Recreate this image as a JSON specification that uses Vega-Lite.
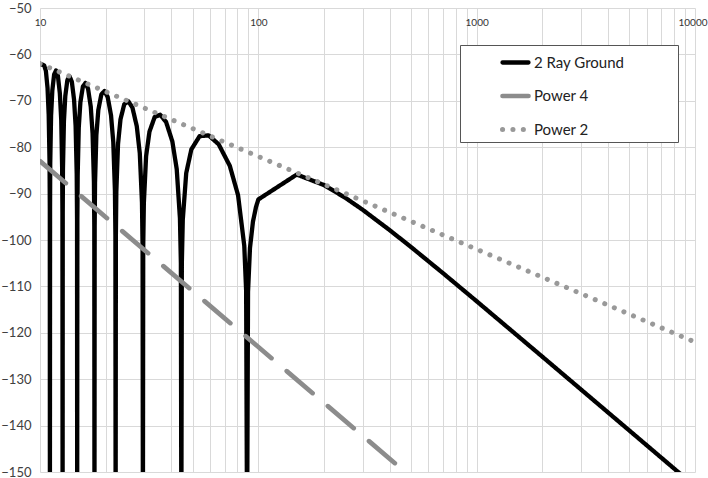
{
  "$schema": "https://vega.github.io/schema/vega-lite/v6.json",
  "width": 655,
  "height": 464,
  "autosize": {"type": "none"},
  "padding": {"left": 40, "top": 8, "right": 13, "bottom": 6},
  "background": "white",
  "config": {"view": {"stroke": null}, "font": "Lato"},
  "data": {"values": [
    {"series": "2 Ray Ground", "d": 10, "p": -62.0},
    {"series": "2 Ray Ground", "d": 10.45, "p": -62.38},
    {"series": "2 Ray Ground", "d": 10.64, "p": -63.54},
    {"series": "2 Ray Ground", "d": 10.83, "p": -67.31},
    {"series": "2 Ray Ground", "d": 10.96, "p": -73.00},
    {"series": "2 Ray Ground", "d": 11.06, "p": -83.41},
    {"series": "2 Ray Ground", "d": 11.09, "p": -92.96},
    {"series": "2 Ray Ground", "d": 11.10, "p": -165},
    {"series": "2 Ray Ground", "d": 11.12, "p": -92.98},
    {"series": "2 Ray Ground", "d": 11.14, "p": -83.47},
    {"series": "2 Ray Ground", "d": 11.24, "p": -73.22},
    {"series": "2 Ray Ground", "d": 11.39, "p": -67.75},
    {"series": "2 Ray Ground", "d": 11.61, "p": -64.30},
    {"series": "2 Ray Ground", "d": 11.84, "p": -63.47},
    {"series": "2 Ray Ground", "d": 12.08, "p": -64.64},
    {"series": "2 Ray Ground", "d": 12.33, "p": -68.44},
    {"series": "2 Ray Ground", "d": 12.51, "p": -74.14},
    {"series": "2 Ray Ground", "d": 12.63, "p": -84.56},
    {"series": "2 Ray Ground", "d": 12.67, "p": -94.12},
    {"series": "2 Ray Ground", "d": 12.69, "p": -165},
    {"series": "2 Ray Ground", "d": 12.71, "p": -94.14},
    {"series": "2 Ray Ground", "d": 12.74, "p": -84.64},
    {"series": "2 Ray Ground", "d": 12.87, "p": -74.39},
    {"series": "2 Ray Ground", "d": 13.06, "p": -68.94},
    {"series": "2 Ray Ground", "d": 13.35, "p": -65.51},
    {"series": "2 Ray Ground", "d": 13.66, "p": -64.71},
    {"series": "2 Ray Ground", "d": 13.99, "p": -65.91},
    {"series": "2 Ray Ground", "d": 14.32, "p": -69.74},
    {"series": "2 Ray Ground", "d": 14.56, "p": -75.46},
    {"series": "2 Ray Ground", "d": 14.73, "p": -85.89},
    {"series": "2 Ray Ground", "d": 14.78, "p": -95.45},
    {"series": "2 Ray Ground", "d": 14.80, "p": -165},
    {"series": "2 Ray Ground", "d": 14.83, "p": -95.48},
    {"series": "2 Ray Ground", "d": 14.88, "p": -85.98},
    {"series": "2 Ray Ground", "d": 15.05, "p": -75.75},
    {"series": "2 Ray Ground", "d": 15.31, "p": -70.32},
    {"series": "2 Ray Ground", "d": 15.72, "p": -66.93},
    {"series": "2 Ray Ground", "d": 16.15, "p": -66.16},
    {"series": "2 Ray Ground", "d": 16.60, "p": -67.40},
    {"series": "2 Ray Ground", "d": 17.08, "p": -71.27},
    {"series": "2 Ray Ground", "d": 17.41, "p": -77.02},
    {"series": "2 Ray Ground", "d": 17.66, "p": -87.47},
    {"series": "2 Ray Ground", "d": 17.73, "p": -97.03},
    {"series": "2 Ray Ground", "d": 17.76, "p": -165},
    {"series": "2 Ray Ground", "d": 17.80, "p": -97.07},
    {"series": "2 Ray Ground", "d": 17.87, "p": -87.57},
    {"series": "2 Ray Ground", "d": 18.12, "p": -77.37},
    {"series": "2 Ray Ground", "d": 18.50, "p": -71.97},
    {"series": "2 Ray Ground", "d": 19.10, "p": -68.62},
    {"series": "2 Ray Ground", "d": 19.74, "p": -67.91},
    {"series": "2 Ray Ground", "d": 20.42, "p": -69.20},
    {"series": "2 Ray Ground", "d": 21.15, "p": -73.12},
    {"series": "2 Ray Ground", "d": 21.66, "p": -78.91},
    {"series": "2 Ray Ground", "d": 22.04, "p": -89.39},
    {"series": "2 Ray Ground", "d": 22.15, "p": -98.97},
    {"series": "2 Ray Ground", "d": 22.20, "p": -165},
    {"series": "2 Ray Ground", "d": 22.26, "p": -99.01},
    {"series": "2 Ray Ground", "d": 22.37, "p": -89.52},
    {"series": "2 Ray Ground", "d": 22.77, "p": -79.35},
    {"series": "2 Ray Ground", "d": 23.37, "p": -73.99},
    {"series": "2 Ray Ground", "d": 24.33, "p": -70.72},
    {"series": "2 Ray Ground", "d": 25.37, "p": -70.09},
    {"series": "2 Ray Ground", "d": 26.51, "p": -71.47},
    {"series": "2 Ray Ground", "d": 27.75, "p": -75.49},
    {"series": "2 Ray Ground", "d": 28.65, "p": -81.34},
    {"series": "2 Ray Ground", "d": 29.31, "p": -91.87},
    {"series": "2 Ray Ground", "d": 29.50, "p": -101.46},
    {"series": "2 Ray Ground", "d": 29.60, "p": -165},
    {"series": "2 Ray Ground", "d": 29.70, "p": -101.52},
    {"series": "2 Ray Ground", "d": 29.90, "p": -92.04},
    {"series": "2 Ray Ground", "d": 30.62, "p": -81.92},
    {"series": "2 Ray Ground", "d": 31.72, "p": -76.65},
    {"series": "2 Ray Ground", "d": 33.51, "p": -73.51},
    {"series": "2 Ray Ground", "d": 35.52, "p": -73.01},
    {"series": "2 Ray Ground", "d": 37.79, "p": -74.55},
    {"series": "2 Ray Ground", "d": 40.37, "p": -78.74},
    {"series": "2 Ray Ground", "d": 42.29, "p": -84.73},
    {"series": "2 Ray Ground", "d": 43.75, "p": -95.35},
    {"series": "2 Ray Ground", "d": 44.18, "p": -104.97},
    {"series": "2 Ray Ground", "d": 44.40, "p": -165},
    {"series": "2 Ray Ground", "d": 44.63, "p": -105.05},
    {"series": "2 Ray Ground", "d": 45.08, "p": -95.61},
    {"series": "2 Ray Ground", "d": 46.74, "p": -85.59},
    {"series": "2 Ray Ground", "d": 49.34, "p": -80.48},
    {"series": "2 Ray Ground", "d": 53.82, "p": -77.62},
    {"series": "2 Ray Ground", "d": 59.21, "p": -77.45},
    {"series": "2 Ray Ground", "d": 65.79, "p": -79.36},
    {"series": "2 Ray Ground", "d": 74.01, "p": -84.01},
    {"series": "2 Ray Ground", "d": 80.74, "p": -90.34},
    {"series": "2 Ray Ground", "d": 86.22, "p": -101.24},
    {"series": "2 Ray Ground", "d": 87.93, "p": -110.94},
    {"series": "2 Ray Ground", "d": 88.81, "p": -165},
    {"series": "2 Ray Ground", "d": 89.71, "p": -111.12},
    {"series": "2 Ray Ground", "d": 91.56, "p": -101.76},
    {"series": "2 Ray Ground", "d": 94.48, "p": -96.05},
    {"series": "2 Ray Ground", "d": 97.59, "p": -92.88},
    {"series": "2 Ray Ground", "d": 100, "p": -91.26},
    {"series": "2 Ray Ground", "d": 150, "p": -85.89},
    {"series": "2 Ray Ground", "d": 200, "p": -88.16},
    {"series": "2 Ray Ground", "d": 250, "p": -90.89},
    {"series": "2 Ray Ground", "d": 300, "p": -93.46},
    {"series": "2 Ray Ground", "d": 400, "p": -97.89},
    {"series": "2 Ray Ground", "d": 500, "p": -101.50},
    {"series": "2 Ray Ground", "d": 700, "p": -107.12},
    {"series": "2 Ray Ground", "d": 1000, "p": -113.20},
    {"series": "2 Ray Ground", "d": 2000, "p": -125.16},
    {"series": "2 Ray Ground", "d": 5000, "p": -141.05},
    {"series": "2 Ray Ground", "d": 10000, "p": -153.09},
    {"series": "Power 4", "d": 10, "p": -83},
    {"series": "Power 4", "d": 471, "p": -150},
    {"series": "Power 2", "d": 10, "p": -62},
    {"series": "Power 2", "d": 10000, "p": -122}
  ]},
  "mark": {"type": "line", "clip": true, "strokeCap": "round", "strokeJoin": "round"},
  "encoding": {
    "x": {
      "field": "d", "type": "quantitative",
      "scale": {"type": "log", "domain": [10, 10000], "nice": false},
      "axis": {
        "orient": "top", "title": null,
        "values": [10, 20, 30, 40, 50, 60, 70, 80, 90, 100, 200, 300, 400, 500, 600, 700, 800, 900, 1000, 2000, 3000, 4000, 5000, 6000, 7000, 8000, 9000, 10000],
        "format": "d",
        "labelExpr": "indexof([10, 100, 1000, 10000], datum.value) >= 0 ? datum.label : ''",
        "grid": true, "gridColor": "#d9d9d9", "gridWidth": 1,
        "domain": false, "ticks": false,
        "labelPadding": -19, "labelFontSize": 10, "labelColor": "#333333",
        "labelOverlap": false, "labelFlush": false, "labelBound": false,
        "labelAlign": {"expr": "datum.value == 10000 ? 'right' : 'center'"},
        "labelOffset": {"expr": "datum.value == 10000 ? 12 : 0"}
      }
    },
    "y": {
      "field": "p", "type": "quantitative",
      "scale": {"domain": [-150, -50], "nice": false, "zero": false},
      "axis": {
        "title": null,
        "values": [-50, -60, -70, -80, -90, -100, -110, -120, -130, -140, -150],
        "grid": true, "gridColor": "#d9d9d9", "gridWidth": 1,
        "domain": false, "ticks": false,
        "labelPadding": 9, "labelFontSize": 13, "labelColor": "#404040",
        "labelFlush": false, "labelOverlap": false
      }
    },
    "color": {
      "field": "series", "type": "nominal",
      "scale": {"domain": ["2 Ray Ground", "Power 4", "Power 2"], "range": ["#000000", "#8c8c8c", "#999999"]},
      "legend": {
        "orient": "none", "legendX": 420, "legendY": 37,
        "title": "\u00a0", "titleOrient": "right", "titlePadding": 52, "titleFontSize": 2,
        "symbolType": "stroke", "symbolSize": 676,
        "labelFontSize": 15, "labelColor": "#222222",
        "padding": 2, "rowPadding": 8.5, "symbolOffset": 38, "labelOffset": 3,
        "fillColor": "white", "strokeColor": "#555555",
        "encode": {"symbols": {"update": {"strokeCap": {"value": "round"}}}}
      }
    },
    "strokeDash": {
      "field": "series", "type": "nominal",
      "scale": {"domain": ["2 Ray Ground", "Power 4", "Power 2"], "range": [[1, 0], [34, 20], [0.1, 10.3]]}
    },
    "strokeWidth": {
      "field": "series", "type": "nominal",
      "scale": {"domain": ["2 Ray Ground", "Power 4", "Power 2"], "range": [4.3, 5, 4.5]}
    }
  }
}
